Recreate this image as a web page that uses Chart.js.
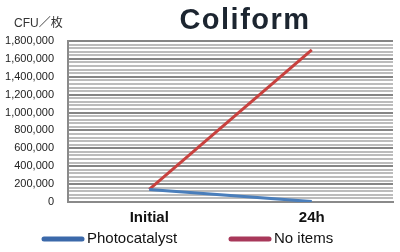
<!DOCTYPE html>
<html>
<head>
<meta charset="utf-8">
<script src="https://cdn.jsdelivr.net/npm/chart.js@4/dist/chart.umd.min.js"></script>
<style>
  html, body { margin: 0; padding: 0; background: #fff; }
  #wrap { width: 400px; height: 252px; }
</style>
</head>
<body>
<div id="wrap"><canvas id="chart"></canvas></div>
<script>
// chart values
const categories = ['Initial', '24h'];
const photocatalyst = [140000, 5000];
const noItems = [140000, 1700000];
const seriesNames = ['Photocatalyst', 'No items'];
const yMax = 1800000;
const yMajorStep = 200000;
const yMinorStep = 40000;

// draws title, unit label and the bottom legend
const extras = {
  id: 'extras',
  afterDraw(chart) {
    const ctx = chart.ctx;
    ctx.save();

    ctx.fillStyle = '#1c2530';
    ctx.font = 'bold 29px "Liberation Sans", Arial, sans-serif';
    ctx.textAlign = 'center';
    ctx.textBaseline = 'middle';
    ctx.letterSpacing = '1.5px';
    ctx.fillText('Coliform', 245, 21);
    ctx.letterSpacing = '0px';

    ctx.fillStyle = '#333';
    ctx.font = '12px "Liberation Sans", "Noto Sans CJK JP", sans-serif';
    ctx.textAlign = 'left';
    ctx.fillText('CFU／枚', 14, 24);

    const legendColors = ['#3b69aa', '#a8385a'];
    const legendX = [44, 231];
    ctx.font = '15px "Liberation Sans", Arial, sans-serif';
    ctx.lineCap = 'round';
    ctx.lineWidth = 5;
    chart.data.datasets.forEach((ds, i) => {
      const x = legendX[i];
      ctx.strokeStyle = legendColors[i];
      ctx.beginPath();
      ctx.moveTo(x, 239);
      ctx.lineTo(x + 38, 239);
      ctx.stroke();
      ctx.fillStyle = '#111';
      ctx.fillText(ds.label, x + 43, 239);
    });
    ctx.restore();
  }
};

new Chart(document.getElementById('chart'), {
  type: 'line',
  data: {
    labels: categories,
    datasets: [
      {
        label: seriesNames[0],
        data: photocatalyst,
        borderColor: '#4a7ebb',
        borderWidth: 3,
        pointRadius: 0,
        tension: 0
      },
      {
        label: seriesNames[1],
        data: noItems,
        borderColor: '#c8413e',
        borderWidth: 3,
        pointRadius: 0,
        tension: 0
      }
    ]
  },
  options: {
    responsive: true,
    maintainAspectRatio: false,
    animation: false,
    layout: { padding: { left: 5, right: 7, top: 41, bottom: 18 } },
    plugins: {
      legend: { display: false },
      title: { display: false },
      tooltip: { enabled: false }
    },
    scales: {
      x: {
        offset: true,
        grid: { display: false, drawTicks: false },
        border: { color: '#8a8a8a', width: 2 },
        ticks: {
          padding: 7,
          color: '#111',
          font: { family: '"Liberation Sans", Arial, sans-serif', size: 15, weight: 'bold' }
        }
      },
      y: {
        min: 0,
        max: yMax,
        afterFit: s => { s.width = 63; },
        grid: {
          drawTicks: false,
          color: c => (c.tick.value % yMajorStep === 0 ? '#858585' : '#bcbcbc'),
          lineWidth: 2
        },
        border: { color: '#8a8a8a', width: 2 },
        ticks: {
          stepSize: yMinorStep,
          autoSkip: false,
          padding: 14,
          color: '#222',
          font: { family: '"Liberation Sans", Arial, sans-serif', size: 11 },
          callback: v => (v % yMajorStep === 0 ? v.toLocaleString('en-US') : '')
        }
      }
    }
  },
  plugins: [extras]
});
</script>
</body>
</html>
